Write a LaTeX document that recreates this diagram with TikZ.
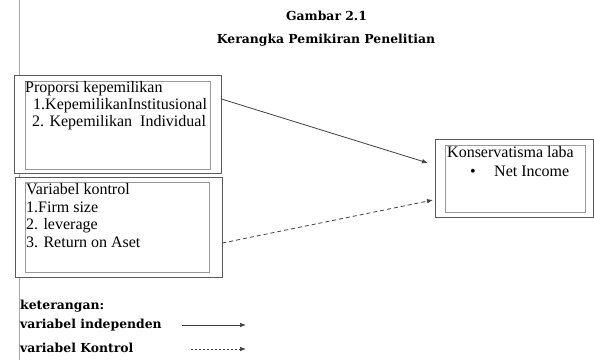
\documentclass[tikz,border=0pt]{standalone}
\usepackage{fontspec}
\setmainfont{Liberation Serif}
\newfontfamily\bodyfont{Liberation Serif}
\newfontfamily\headfont{DejaVu Serif}
\usetikzlibrary{arrows.meta,positioning}

\tikzset{
  outerbox/.style={draw=black!65, fill=white, line width=0.9pt, inner sep=0pt},
  innerbox/.style={draw=black!40, line width=0.7pt, inner sep=0pt},
  boxline/.style={inner sep=0pt, anchor=base west, font=\bodyfont\fontsize{16}{18}\selectfont},
  headtext/.style={inner sep=0pt, font=\headfont\bfseries\fontsize{12.4}{14}\selectfont},
  legendtext/.style={headtext, anchor=base west},
  mainarrow/.style={draw=black!75, line width=0.8pt, -{Latex[length=6pt,width=4.5pt]}},
  ctrlarrow/.style={mainarrow, dash pattern=on 4pt off 3pt},
}

\begin{document}
\begin{tikzpicture}[x=1pt,y=-1pt]
\useasboundingbox (0,0) rectangle (594,360);
% page margin
\draw[black!35, line width=0.8pt] (19,0) -- (19,360);

% judul
\node[headtext] (gambar) at (326.5,16) {Gambar 2.1};
\node[headtext] (judul) at (326,40) {Kerangka Pemikiran Penelitian};

% variabel independen
\node[outerbox, minimum width=207pt, minimum height=98pt] (prop) at (117.5,124) {};
\node[innerbox, minimum width=185pt, minimum height=88pt] (prop-in) at (117.5,125) {};
\node[boxline] (prop-1) at (25,92) {Proporsi kepemilikan};
\node[boxline] (prop-2) at (33,109) {1.KepemilikanInstitusional};
\node[boxline] (prop-3) at (32,126) {2. Kepemilikan\ \ Individual};

% variabel kontrol
\node[outerbox, minimum width=207pt, minimum height=100pt] (kontrol) at (118.5,227) {};
\node[innerbox, minimum width=184pt, minimum height=90pt] (kontrol-in) at (117,227) {};
\node[boxline] (kontrol-1) at (26,194) {Variabel kontrol};
\node[boxline] (kontrol-2) at (26,212) {1.Firm size};
\node[boxline] (kontrol-3) at (26,229) {2. leverage};
\node[boxline] (kontrol-4) at (26,247) {3. Return on Aset};

% variabel dependen
\node[outerbox, minimum width=158pt, minimum height=78pt] (laba) at (514,178) {};
\node[innerbox, minimum width=140pt, minimum height=67pt] (laba-in) at (515,178.5) {};
\node[boxline] (laba-1) at (447,157) {Konservatisma laba};
\node[boxline] (laba-2) at (470,176) {\textbullet};
\node[boxline] (laba-3) at (494,176) {Net Income};

\coordinate (tipA) at (428,163);
\coordinate (tipB) at (433,200);
\draw[mainarrow] (prop.east |- 0,99) -- (tipA);
\draw[ctrlarrow] (kontrol.east |- 0,243) -- (tipB);

% keterangan
\node[legendtext] (ket) at (20,309) {keterangan:};
\node[legendtext] (ket-ind) at (20,328) {variabel independen};
\node[legendtext] (ket-kon) at (20,352) {variabel Kontrol};
\coordinate (ind-a) at (182,325);
\coordinate (ind-b) at (246,325);
\coordinate (kon-a) at (191,349);
\coordinate (kon-b) at (246,349);
\draw[mainarrow, line width=0.7pt] (ind-a) -- (ind-b);
\draw[mainarrow, line width=0.7pt, dash pattern=on 2pt off 2pt] (kon-a) -- (kon-b);
\end{tikzpicture}
\end{document}
